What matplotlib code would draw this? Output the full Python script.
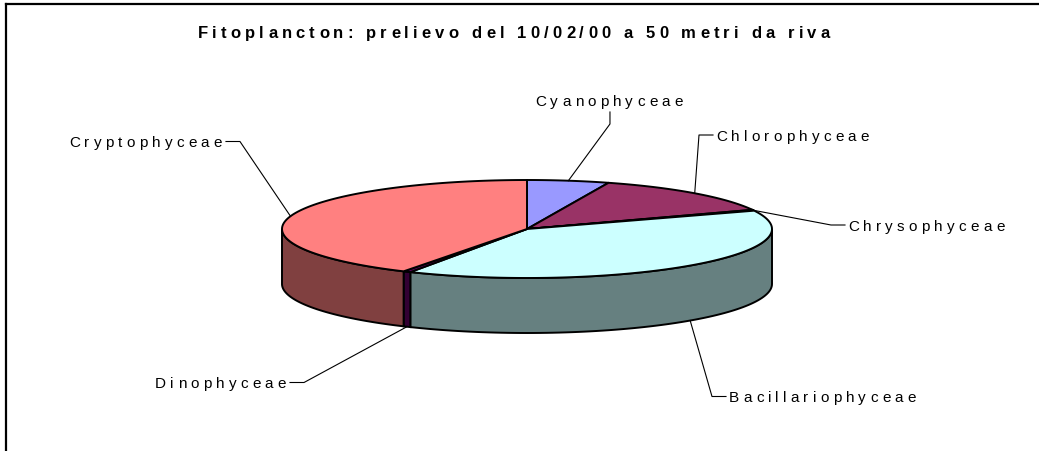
import numpy as np
import matplotlib.pyplot as plt
from matplotlib import font_manager
from matplotlib.patches import Polygon

# dati (percentuali)
labels = ['Cyanophyceae', 'Chlorophyceae', 'Chrysophyceae',
          'Bacillariophyceae', 'Dinophyceae', 'Cryptophyceae']
values = [5.4, 13.2, 0.3, 39.0, 0.5, 41.6]
title = 'Fitoplancton: prelievo del 10/02/00 a 50 metri da riva'

top_colors = ['#9999FF', '#993366', '#FFFFCC', '#CCFFFF', '#660066', '#FF8080']
side_colors = ['#4D4D80', '#4D1A33', '#808066', '#668080', '#330033', '#804040']

# posizione etichette: (x sinistra, baseline, lato)
label_pos = [(535, 106, 'top'), (716, 141, 'right'), (848, 231, 'right'),
             (729, 402.5, 'right'), (155, 388.5, 'left'), (69, 147.5, 'left')]

W, H = 1039, 452
cx, cy, rx, ry, depth = 527, 230, 245, 49, 55

fig = plt.figure(figsize=(W / 100, H / 100), dpi=100)
ax = fig.add_axes([0, 0, 1, 1])
ax.set_xlim(0, W)
ax.set_ylim(H, 0)
ax.axis('off')


def pt(t, dz=0):
    r = np.radians(t)
    return cx + rx * np.sin(r), cy - ry * np.cos(r) + dz


def spaced(x, y, s, size, track, weight='normal', ha='left'):
    prop = font_manager.FontProperties(family='Liberation Sans', weight=weight, size=size)
    font = font_manager.get_font(font_manager.findfont(prop))
    font.set_size(size, 100)
    advs = [font.load_char(ord(c)).linearHoriAdvance / 65536 for c in s]
    total = sum(advs) + track * (len(s) - 1)
    if ha == 'center':
        x -= total / 2
    x0 = x
    for c, a in zip(s, advs):
        ax.text(x, y, c, fontproperties=prop, va='baseline', ha='left', color='black')
        x += a + track
    return x0, x0 + total


# angoli delle fette (senso orario dalle ore 12)
spans = np.array(values) / sum(values) * 360
starts = np.concatenate([[0], np.cumsum(spans)[:-1]])

# pareti laterali
for i in range(len(values)):
    lo, hi = max(starts[i], 90), min(starts[i] + spans[i], 270)
    if hi <= lo:
        continue
    ts = np.linspace(lo, hi, 80)
    topx, topy = pt(ts)
    botx, boty = pt(ts[::-1], depth)
    poly = np.column_stack([np.concatenate([topx, botx]), np.concatenate([topy, boty])])
    ax.add_patch(Polygon(poly, closed=True, fc=side_colors[i], ec='black', lw=1.4, zorder=2))

# facce superiori
for i in range(len(values)):
    ts = np.linspace(starts[i], starts[i] + spans[i], 120)
    x, y = pt(ts)
    poly = np.column_stack([np.concatenate([[cx], x]), np.concatenate([[cy], y])])
    ax.add_patch(Polygon(poly, closed=True, fc=top_colors[i], ec='black', lw=1.4,
                         joinstyle='round', zorder=3))

# etichette e linee guida
for i, lab in enumerate(labels):
    lx, ly, side = label_pos[i]
    x0, x1 = spaced(lx, ly, lab, 11, 4.2)
    mid = starts[i] + spans[i] / 2
    ax_, ay_ = pt(mid, depth if 90 < mid < 270 else 0)
    cyl = ly - 5
    if side == 'top':
        xm = (x0 + x1) / 2 + 1
        xs, ys = [xm, xm, ax_], [ly + 7, ly + 19, ay_]
    elif side == 'right':
        xs, ys = [x0 - 3, x0 - 17, ax_], [cyl, cyl, ay_]
    else:
        xs, ys = [x1 + 4, x1 + 18, ax_], [cyl, cyl, ay_]
    ax.plot(xs, ys, color='black', lw=0.8, zorder=4)

spaced(514, 38, title, 12, 4.15, weight='bold', ha='center')

# cornice dell'area grafico
ax.plot([6, 6], [H, 5], color='black', lw=1.6)
ax.plot([6, W], [5, 5], color='black', lw=1.6)

fig.savefig('out.png', dpi=100)
